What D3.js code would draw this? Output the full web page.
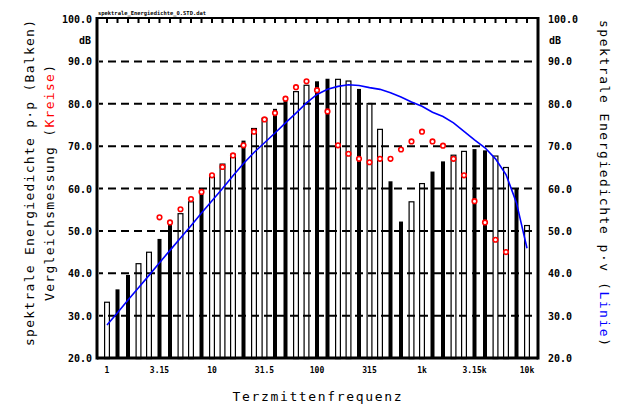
<!DOCTYPE html>
<html><head><meta charset="utf-8">
<script src="https://cdn.jsdelivr.net/npm/d3@7"></script>
<style>
html,body{margin:0;padding:0;background:#fff;}
svg{display:block;}
text{font-family:"DejaVu Sans Mono","Liberation Mono",monospace;}
</style></head>
<body>
<svg id="chart" width="626" height="405"></svg>
<script>
const bands = ["1","1.25","1.6","2","2.5","3.15","4","5","6.3","8","10","12.5","16","20","25","31.5","40","50","63","80","100","125","160","200","250","315","400","500","630","800","1k","1.25k","1.6k","2k","2.5k","3.15k","4k","5k","6.3k","8k","10k"];
const barValues = [33.3,36.2,39.6,42.4,45.1,48.1,51.4,54.2,57.0,60.1,62.9,65.9,68.2,71.3,74.3,76.7,78.8,81.0,83.0,84.5,85.3,85.9,85.9,85.5,83.5,80.2,74.1,61.7,52.2,57.0,61.3,64.0,66.4,68.0,68.9,69.3,69.0,67.8,65.1,59.9,51.4];
const circleValues = [null,null,null,null,null,53.2,52.0,55.1,57.5,59.2,63.1,65.1,67.8,70.2,73.4,76.3,77.8,81.2,83.9,85.3,83.2,78.2,70.2,68.2,67.0,66.2,67.0,67.0,69.2,71.1,73.4,71.1,70.1,67.0,63.1,57.0,52.0,47.9,45.0,null,null];
const lineValues = [27.8,30.7,33.7,36.6,39.5,42.5,45.4,48.3,51.2,54.2,57.1,60.0,63.0,65.9,68.5,70.8,73.1,75.5,77.8,80.2,82.2,83.4,84.1,84.5,84.3,83.8,83.4,82.6,81.6,80.4,79.4,78.0,77.0,75.5,73.5,71.5,69.6,67.0,63.3,56.6,45.9];
const xTickLabels = ["1","3.15","10","31.5","100","315","1k","3.15k","10k"];
const yTicks = [20,30,40,50,60,70,80,90,100];

const svg = d3.select("#chart");
const L = 97, R = 538, T = 18, B = 358;
const x = d3.scalePoint().domain(bands).range([107, 527]);
const y = d3.scaleLinear().domain([20, 100]).range([B, T + 1]);

// bars (some collapse to solid at this resolution)
const solid = i => { const p = ((i + 1 - 1.95) % 3.72 + 3.72) % 3.72; return p < 1.6; };
const gBars = svg.append("g");
bands.forEach((b, i) => {
  const cx = x(b), top = y(barValues[i]);
  if (solid(i)) {
    gBars.append("rect").attr("x", cx - 2).attr("y", top).attr("width", 4).attr("height", B - top).attr("fill", "#000");
  } else {
    gBars.append("rect").attr("x", cx - 2.4).attr("y", top + 0.6).attr("width", 4.8).attr("height", B - top).attr("fill", "#fff").attr("stroke", "#000").attr("stroke-width", 1.2);
  }
});

// grid
svg.append("g").selectAll("line").data(yTicks.filter(v => v > 20 && v < 100)).join("line")
  .attr("x1", L + 2).attr("x2", R - 1).attr("y1", d => y(d)).attr("y2", d => y(d))
  .attr("stroke", "#000").attr("stroke-width", 2).attr("stroke-dasharray", "8,5").attr("stroke-dashoffset", 4);

// line
svg.append("path").datum(lineValues)
  .attr("d", d3.line().x((d, i) => x(bands[i])).y(d => y(d)))
  .attr("fill", "none").attr("stroke", "#0000ff").attr("stroke-width", 1.6);

// circles
svg.append("g").selectAll("circle").data(circleValues.map((v, i) => ({v, i})).filter(d => d.v !== null)).join("circle")
  .attr("cx", d => x(bands[d.i])).attr("cy", d => y(d.v)).attr("r", 2.3)
  .attr("fill", "#fff").attr("stroke", "#ff0000").attr("stroke-width", 1.6);

// frame
svg.append("line").attr("x1", L).attr("x2", L).attr("y1", T - 1).attr("y2", B + 1.5).attr("stroke", "#000").attr("stroke-width", 3);
svg.append("line").attr("x1", R).attr("x2", R).attr("y1", T - 1).attr("y2", B + 1.5).attr("stroke", "#000").attr("stroke-width", 3);
svg.append("line").attr("x1", L).attr("x2", R).attr("y1", B).attr("y2", B).attr("stroke", "#000").attr("stroke-width", 3);
svg.append("line").attr("x1", L).attr("x2", R).attr("y1", T).attr("y2", T).attr("stroke", "#000").attr("stroke-width", 2);
// top ticks
svg.append("g").selectAll("line").data(bands).join("line")
  .attr("x1", d => x(d)).attr("x2", d => x(d)).attr("y1", T).attr("y2", T + 5)
  .attr("stroke", "#000").attr("stroke-width", 2);

// y tick labels
const fmt = d3.format(".1f");
const tl = svg.append("g").attr("font-size", 10).attr("font-weight", "bold");
yTicks.forEach(v => {
  tl.append("text").attr("x", 92).attr("y", y(v) + 4).attr("text-anchor", "end").text(fmt(v));
  tl.append("text").attr("x", 548).attr("y", y(v) + 4).attr("text-anchor", "start").text(fmt(v));
});
tl.append("text").attr("x", 91).attr("y", 44).attr("text-anchor", "end").text("dB");
tl.append("text").attr("x", 549).attr("y", 44).attr("text-anchor", "start").text("dB");

// x tick labels
const xl = svg.append("g").attr("font-size", 8).attr("font-weight", "bold");
xTickLabels.forEach((t, k) => {
  xl.append("text").attr("x", x(bands[k * 5])).attr("y", 373).attr("text-anchor", "middle").text(t);
});

// small header text
svg.append("text").attr("x", 98).attr("y", 15).attr("font-size", 5.5).attr("font-weight", "bold")
  .attr("textLength", 108).attr("lengthAdjust", "spacingAndGlyphs").text("spektrale_Energiedichte_0.STD.dat");

// axis titles
svg.append("text").attr("x", 317).attr("y", 401).attr("text-anchor", "middle").attr("font-size", 13)
  .attr("textLength", 169).attr("lengthAdjust", "spacing").text("Terzmittenfrequenz");

const lt1 = svg.append("text").attr("transform", "translate(34,183) rotate(-90)").attr("text-anchor", "middle").attr("font-size", 13)
  .attr("textLength", 326).attr("lengthAdjust", "spacing").text("spektrale Energiedichte p\u00b7p (Balken)");
const lt2 = svg.append("text").attr("transform", "translate(54,183) rotate(-90)").attr("text-anchor", "middle").attr("font-size", 13)
  .attr("textLength", 236).attr("lengthAdjust", "spacing");
lt2.append("tspan").text("Vergleichsmessung (");
lt2.append("tspan").attr("fill", "#ff0000").text("Kreise");
lt2.append("tspan").text(")");

const rt = svg.append("text").attr("transform", "translate(600,183) rotate(90)").attr("text-anchor", "middle").attr("font-size", 13)
  .attr("textLength", 326).attr("lengthAdjust", "spacing");
rt.append("tspan").text("spektrale Energiedichte p\u00b7v (");
rt.append("tspan").attr("fill", "#0000ff").text("Linie");
rt.append("tspan").text(")");
</script>
</body></html>
